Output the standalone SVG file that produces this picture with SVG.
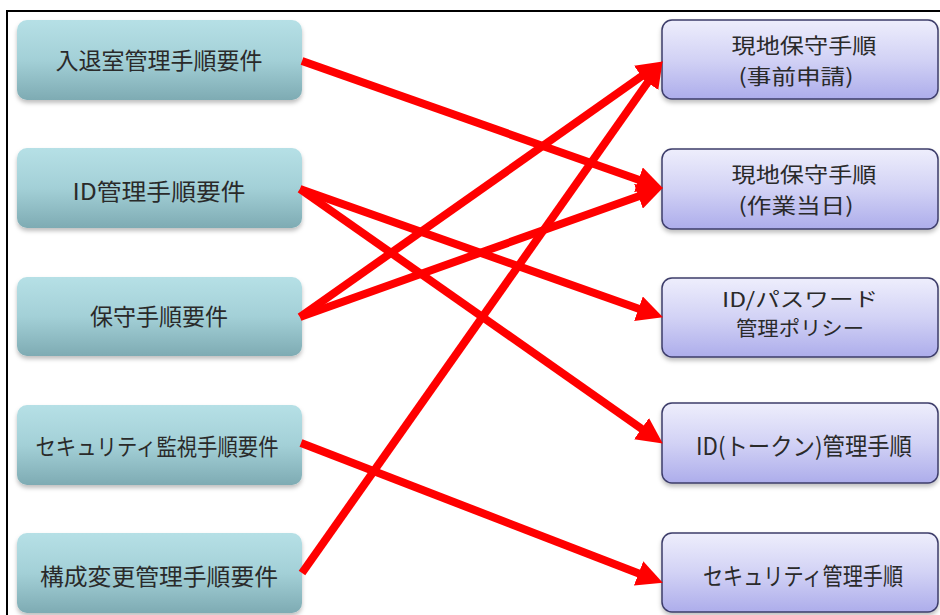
<svg xmlns="http://www.w3.org/2000/svg" width="940" height="615" viewBox="0 0 940 615">
<style>
.lbox{fill:url(#gL);filter:url(#sh)}
.rbox{fill:url(#gR);stroke:#3c3c6a;stroke-width:1.5;filter:url(#sh)}
.t{font-family:"Noto Sans CJK JP","Noto Sans",sans-serif;font-size:23px;fill:#2a2a2a;text-anchor:middle}
.r{font-size:24px}
.r2{font-size:21px}
.r3{font-size:20px}
.c{stroke:#f00;stroke-width:8;fill:none;marker-end:url(#ah)}
</style>
<defs>
<linearGradient id="gL" x1="0" y1="0" x2="0" y2="1">
<stop offset="0" stop-color="#b6e0e6"/>
<stop offset="0.5" stop-color="#a3d0d7"/>
<stop offset="1" stop-color="#7eabb3"/>
</linearGradient>
<linearGradient id="gR" x1="0" y1="0" x2="0" y2="1">
<stop offset="0" stop-color="#eeeefc"/>
<stop offset="0.5" stop-color="#d2d2f5"/>
<stop offset="1" stop-color="#adadeb"/>
</linearGradient>
<filter id="sh" x="-5%" y="-10%" width="110%" height="130%">
<feDropShadow dx="0" dy="3" stdDeviation="2" flood-color="#000" flood-opacity="0.25"/>
</filter>
<marker id="ah" markerUnits="userSpaceOnUse" markerWidth="26" markerHeight="26" refX="10" refY="13" orient="auto" viewBox="0 0 26 26">
<path d="M0,0 L26,13 L0,26 z" fill="#f00"/>
</marker>
</defs>
<rect x="7" y="11" width="940" height="612" fill="#fff" stroke="#000" stroke-width="2"/>
<g id="n1"><rect class="lbox" x="17" y="20" width="285" height="80" rx="10"/><text class="t" x="159" y="69">入退室管理手順要件</text></g>
<g id="n2"><rect class="lbox" x="17" y="148" width="285" height="80" rx="10"/><text class="t" x="159" y="200" textLength="173" lengthAdjust="spacingAndGlyphs">ID管理手順要件</text></g>
<g id="n3"><rect class="lbox" x="17" y="277" width="285" height="79" rx="10"/><text class="t" x="159" y="325">保守手順要件</text></g>
<g id="n4"><rect class="lbox" x="17" y="405" width="285" height="80" rx="10"/><text class="t" x="157" y="455" textLength="243" lengthAdjust="spacingAndGlyphs">セキュリティ監視手順要件</text></g>
<g id="n5"><rect class="lbox" x="17" y="533" width="285" height="80" rx="10"/><text class="t" x="159" y="585" textLength="238" lengthAdjust="spacingAndGlyphs">構成変更管理手順要件</text></g>
<g id="m1"><rect class="rbox" x="662" y="20" width="276" height="79" rx="10"/><text class="t r2" x="804" y="53" textLength="145" lengthAdjust="spacingAndGlyphs">現地保守手順</text><text class="t r2" x="796" y="84" textLength="115" lengthAdjust="spacingAndGlyphs">(事前申請)</text></g>
<g id="m2"><rect class="rbox" x="662" y="149" width="276" height="80" rx="10"/><text class="t r2" x="804" y="182" textLength="145" lengthAdjust="spacingAndGlyphs">現地保守手順</text><text class="t r2" x="796" y="213" textLength="115" lengthAdjust="spacingAndGlyphs">(作業当日)</text></g>
<g id="m3"><rect class="rbox" x="662" y="278" width="276" height="79" rx="10"/><text class="t r3" x="800" y="307" textLength="156" lengthAdjust="spacingAndGlyphs">ID/パスワード</text><text class="t r3" x="800" y="336" textLength="128" lengthAdjust="spacingAndGlyphs">管理ポリシー</text></g>
<g id="m4"><rect class="rbox" x="662" y="403" width="276" height="80" rx="10"/><text class="t r" x="804" y="455" textLength="216" lengthAdjust="spacingAndGlyphs">ID(トークン)管理手順</text></g>
<g id="m5"><rect class="rbox" x="662" y="533" width="276" height="79" rx="10"/><text class="t r" x="803" y="585" textLength="200" lengthAdjust="spacingAndGlyphs">セキュリティ管理手順</text></g>
<g id="connectors">
<line class="c" x1="302" y1="61" x2="647.9" y2="183"/>
<line class="c" x1="300" y1="189" x2="647.9" y2="312"/>
<line class="c" x1="300" y1="189" x2="649.7" y2="434.4"/>
<line class="c" x1="300" y1="317" x2="649.7" y2="70.6"/>
<line class="c" x1="300" y1="317" x2="647.9" y2="193"/>
<line class="c" x1="301" y1="443" x2="647.9" y2="577"/>
<line class="c" x1="302" y1="573" x2="653.4" y2="74.3"/>
</g>
</svg>
